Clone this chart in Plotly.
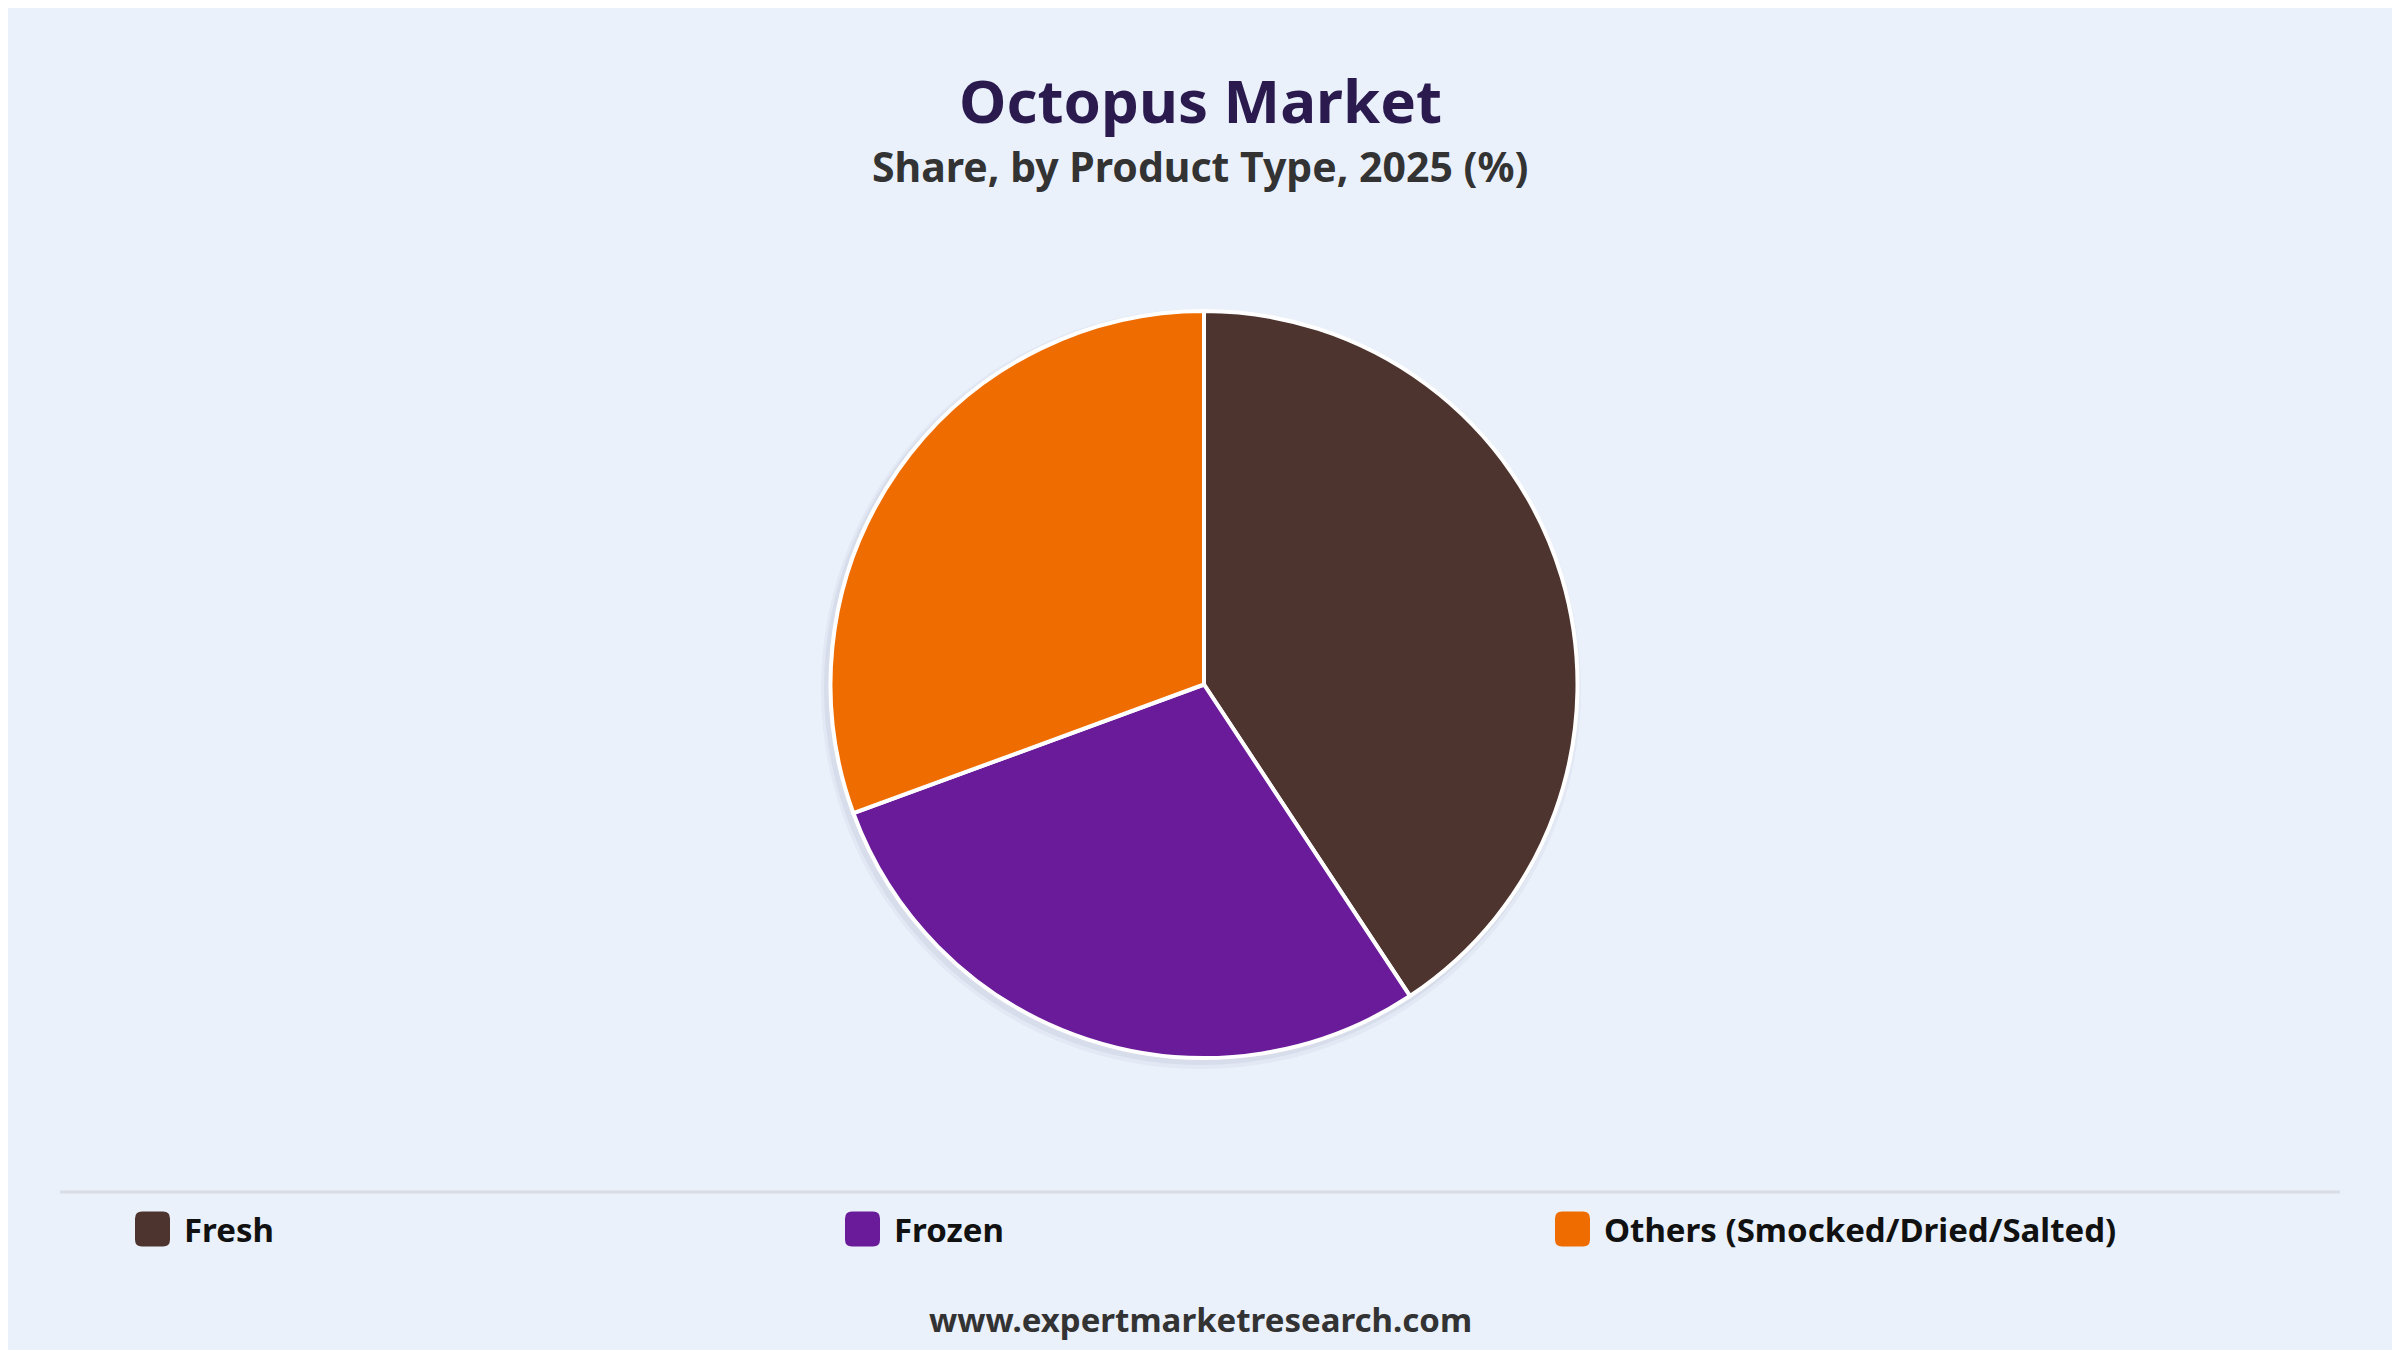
import plotly.graph_objects as go

# share by product type, 2025 (%)
product_types = ["Fresh", "Frozen", "Others (Smocked/Dried/Salted)"]
shares = [40.7, 28.7, 30.6]
colours = ["#4E342E", "#6A1B9A", "#EF6C00"]

title_text = "Octopus Market"
subtitle_text = "Share, by Product Type, 2025 (%)"
source_text = "www.expertmarketresearch.com"

W, H = 2400, 1350
OFF = 8  # page margin the browser adds round the figure
bg = "#EAF1FB"


def px_x(x):
    return (x - OFF) / W


def px_y(y):
    return 1 - (y - OFF) / H


fig = go.Figure()
fig.add_trace(go.Pie(
    labels=product_types,
    values=shares,
    marker=dict(colors=colours, line=dict(color="white", width=4)),
    sort=False,
    direction="clockwise",
    rotation=0,
    textinfo="none",
    hoverinfo="label+percent",
    showlegend=False,
    domain=dict(x=[0, px_x(2400)], y=[px_y(1058), px_y(311)]),
))

# soft shadow behind the pie (two faint rings, a touch lower than the pie)
for cx, cy, r, a in [(1201, 689, 380, 0.05), (1201, 688, 377, 0.07)]:
    fig.add_shape(type="circle", xref="paper", yref="paper", layer="below",
                  x0=px_x(cx - r), x1=px_x(cx + r),
                  y0=px_y(cy + r), y1=px_y(cy - r),
                  fillcolor=f"rgba(70,80,110,{a})", line=dict(width=0))

# separator line above the legend
fig.add_shape(type="line", xref="paper", yref="paper",
              x0=px_x(60), x1=px_x(2340), y0=px_y(1192), y1=px_y(1192),
              line=dict(color="#DADDE3", width=3))

# legend drawn by hand: rounded swatches + labels
leg_x0, leg_step, leg_y, sw = 135, 710, 1229, 35
for i, (name, col) in enumerate(zip(product_types, colours)):
    x0 = leg_x0 + i * leg_step
    x1 = x0 + sw
    y0 = leg_y - sw / 2
    y1 = leg_y + sw / 2
    rr = 7
    pts = [
        f"M {px_x(x0 + rr)} {px_y(y0)}",
        f"L {px_x(x1 - rr)} {px_y(y0)}",
        f"Q {px_x(x1)} {px_y(y0)} {px_x(x1)} {px_y(y0 + rr)}",
        f"L {px_x(x1)} {px_y(y1 - rr)}",
        f"Q {px_x(x1)} {px_y(y1)} {px_x(x1 - rr)} {px_y(y1)}",
        f"L {px_x(x0 + rr)} {px_y(y1)}",
        f"Q {px_x(x0)} {px_y(y1)} {px_x(x0)} {px_y(y1 - rr)}",
        f"L {px_x(x0)} {px_y(y0 + rr)}",
        f"Q {px_x(x0)} {px_y(y0)} {px_x(x0 + rr)} {px_y(y0)} Z",
    ]
    fig.add_shape(type="path", xref="paper", yref="paper", path=" ".join(pts),
                  fillcolor=col, line=dict(width=0))
    fig.add_annotation(text=f"<b>{name}</b>", xref="paper", yref="paper",
                       x=px_x(x1 + 12), y=px_y(leg_y), xanchor="left", yanchor="middle",
                       showarrow=False,
                       font=dict(family="Noto Sans", size=33, color="#111111"))

fig.add_annotation(text=f"<b>{title_text}</b>", xref="paper", yref="paper",
                   x=px_x(1200), y=px_y(100), xanchor="center", yanchor="middle",
                   showarrow=False,
                   font=dict(family="Noto Sans", size=60, color="#2A1A4E", weight=900))
fig.add_annotation(text=f"<b>{subtitle_text}</b>", xref="paper", yref="paper",
                   x=px_x(1200), y=px_y(166), xanchor="center", yanchor="middle",
                   showarrow=False,
                   font=dict(family="Noto Sans", size=41, color="#333333"))
fig.add_annotation(text=f"<b>{source_text}</b>", xref="paper", yref="paper",
                   x=px_x(1200), y=px_y(1319), xanchor="center", yanchor="middle",
                   showarrow=False,
                   font=dict(family="Noto Sans", size=33, color="#333333"))

fig.update_layout(
    width=W, height=H,
    paper_bgcolor=bg, plot_bgcolor=bg,
    margin=dict(l=0, r=0, t=0, b=0),
    showlegend=False,
)

fig.write_html("out.html")
